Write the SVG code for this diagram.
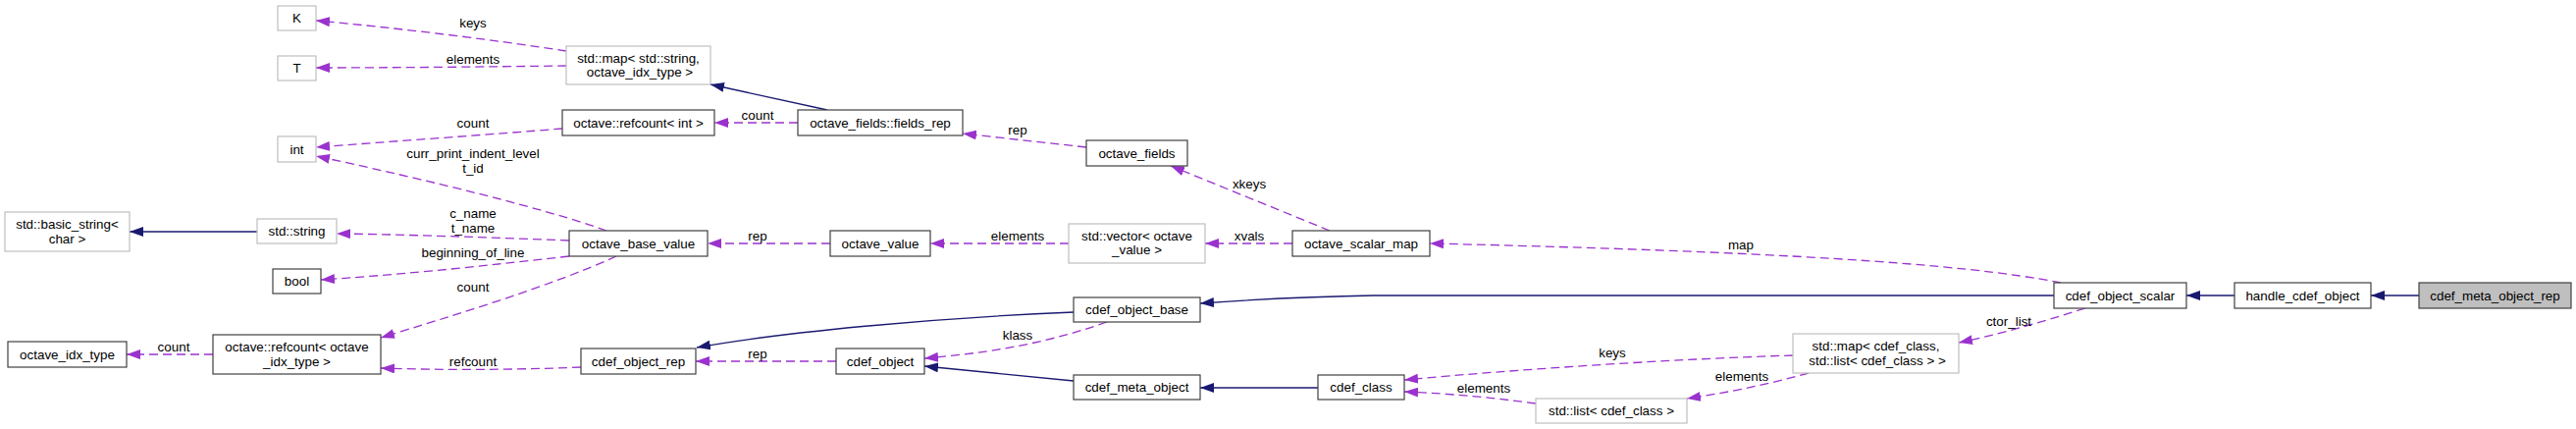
<svg xmlns="http://www.w3.org/2000/svg" width="2625" height="437" viewBox="0 0 2625 437">
<defs>
<style>
.n rect{fill:#fff;stroke:#404040;stroke-width:1.2}
.n.g rect{stroke:#bfbfbf}
.n.f rect{fill:#bfbfbf}
text{font-family:"Liberation Sans",Arial,sans-serif;font-size:13.4px;fill:#000;text-anchor:middle}
.u{fill:none;stroke:#9a32cd;stroke-width:1.3;stroke-dasharray:9,5;marker-end:url(#ap)}
.i{fill:none;stroke:#191970;stroke-width:1.3;marker-end:url(#ab)}
</style>
<marker id="ap" markerUnits="userSpaceOnUse" viewBox="0 0 14 10" refX="14" refY="5" markerWidth="14" markerHeight="10" orient="auto"><path d="M0,0 L14,5 L0,10 z" fill="#9a32cd"/></marker>
<marker id="ab" markerUnits="userSpaceOnUse" viewBox="0 0 14 10" refX="14" refY="5" markerWidth="14" markerHeight="10" orient="auto"><path d="M0,0 L14,5 L0,10 z" fill="#191970"/></marker>
</defs>
<rect width="2625" height="437" fill="#fff"/>
<g id="connectors">
<path class="u" d="M577,52 C500,40 400,28 322,21"/>
<path class="u" d="M577,67 C500,68 400,69 322,69"/>
<path class="i" d="M843,112 L724,86"/>
<path class="u" d="M813,125 L728,125"/>
<path class="u" d="M573,131 C500,137 400,144 322,150"/>
<path class="u" d="M618,235 C560,214 440,184 322,159"/>
<path class="u" d="M580,245 C500,242 420,239 343,238"/>
<path class="u" d="M580,261 C500,270 420,279 327,285"/>
<path class="u" d="M628,261 C560,292 460,322 388,344"/>
<path class="u" d="M846,248 L721,248"/>
<path class="u" d="M1089,248 L948,248"/>
<path class="u" d="M1317,248 L1228,248"/>
<path class="u" d="M1355,235 L1193,169"/>
<path class="u" d="M1107,150 L981,136"/>
<path class="u" d="M2100,288 C2000,268 1800,256 1457,248"/>
<path class="i" d="M2093,301 L1400,301 C1330,302 1280,305 1223,309"/>
<path class="i" d="M1094,318 C950,324 800,338 710,354"/>
<path class="u" d="M852,368 L709,368"/>
<path class="u" d="M592,374 C520,377 450,377 388,375"/>
<path class="u" d="M1128,328 C1060,352 1000,360 942,365"/>
<path class="i" d="M1094,388 L942,373"/>
<path class="i" d="M1343,395 L1223,395"/>
<path class="u" d="M1827,362 C1700,366 1550,376 1431,387"/>
<path class="u" d="M1565,411 C1520,405 1480,401 1431,399"/>
<path class="u" d="M1843,380 C1800,392 1760,400 1719,406"/>
<path class="u" d="M2125,314 C2080,328 2040,340 1996,349"/>
<path class="i" d="M2277,301 L2228,301"/>
<path class="i" d="M2465,301 L2416,301"/>
<path class="i" d="M262,236 L132,236"/>
<path class="u" d="M217,361 L129,361"/>
<text x="482" y="27.5">keys</text>
<text x="482" y="64.5">elements</text>
<text x="772" y="121.5">count</text>
<text x="482" y="129.5">count</text>
<text x="482" y="160.5">curr_print_indent_level</text>
<text x="482" y="175.5">t_id</text>
<text x="482" y="221.5">c_name</text>
<text x="482" y="236.5">t_name</text>
<text x="482" y="261.5">beginning_of_line</text>
<text x="482" y="296.5">count</text>
<text x="482" y="372.5">refcount</text>
<text x="772" y="244.5">rep</text>
<text x="772" y="364.5">rep</text>
<text x="1037" y="244.5">elements</text>
<text x="1037" y="136.5">rep</text>
<text x="1037" y="345.5">klass</text>
<text x="1273" y="191.5">xkeys</text>
<text x="1273" y="244.5">xvals</text>
<text x="1774" y="253.5">map</text>
<text x="1643" y="363.5">keys</text>
<text x="1512" y="399.5">elements</text>
<text x="1775" y="387.5">elements</text>
<text x="2047" y="331.5">ctor_list</text>
<text x="177" y="357.5">count</text>
</g>
<g id="K" class="n g"><rect x="283" y="6" width="39" height="25"/><text x="302.5" y="23">K</text></g>
<g id="T" class="n g"><rect x="283" y="57" width="39" height="25"/><text x="302.5" y="74">T</text></g>
<g id="int" class="n g"><rect x="283" y="139" width="39" height="26"/><text x="302.5" y="156.5">int</text></g>
<g id="basic_string" class="n g"><rect x="5" y="216" width="127" height="40"/><text x="68.5" y="232.5">std::basic_string&lt;</text><text x="68.5" y="247.5">char &gt;</text></g>
<g id="std_string" class="n g"><rect x="262" y="223" width="81" height="25"/><text x="302.5" y="240">std::string</text></g>
<g id="bool" class="n"><rect x="278" y="274" width="49" height="25"/><text x="302.5" y="291">bool</text></g>
<g id="octave_idx_type" class="n"><rect x="8" y="348" width="121" height="26"/><text x="68.5" y="365.5">octave_idx_type</text></g>
<g id="refcount_idx" class="n"><rect x="217" y="341" width="171" height="40"/><text x="302.5" y="357.5">octave::refcount&lt; octave</text><text x="302.5" y="372.5">_idx_type &gt;</text></g>
<g id="map_string" class="n g"><rect x="577" y="47" width="147" height="39"/><text x="650.5" y="63.5">std::map&lt; std::string,</text><text x="652" y="78">octave_idx_type &gt;</text></g>
<g id="refcount_int" class="n"><rect x="573" y="112" width="155" height="26"/><text x="650.5" y="129.5">octave::refcount&lt; int &gt;</text></g>
<g id="octave_base_value" class="n"><rect x="580" y="235" width="141" height="26"/><text x="650.5" y="252.5">octave_base_value</text></g>
<g id="cdef_object_rep" class="n"><rect x="592" y="355" width="117" height="26"/><text x="650.5" y="372.5">cdef_object_rep</text></g>
<g id="fields_rep" class="n"><rect x="813" y="112" width="168" height="26"/><text x="897" y="129.5">octave_fields::fields_rep</text></g>
<g id="octave_value" class="n"><rect x="846" y="235" width="102" height="26"/><text x="897" y="252.5">octave_value</text></g>
<g id="cdef_object" class="n"><rect x="852" y="355" width="90" height="26"/><text x="897" y="372.5">cdef_object</text></g>
<g id="octave_fields" class="n"><rect x="1107" y="143" width="103" height="26"/><text x="1158.5" y="160.5">octave_fields</text></g>
<g id="vector_octave_value" class="n g"><rect x="1089" y="228" width="139" height="40"/><text x="1158.5" y="244.5">std::vector&lt; octave</text><text x="1158.5" y="258.5">_value &gt;</text></g>
<g id="cdef_object_base" class="n"><rect x="1094" y="303" width="129" height="25"/><text x="1158.5" y="320">cdef_object_base</text></g>
<g id="cdef_meta_object" class="n"><rect x="1094" y="382" width="129" height="25"/><text x="1158.5" y="399">cdef_meta_object</text></g>
<g id="octave_scalar_map" class="n"><rect x="1317" y="235" width="140" height="26"/><text x="1387" y="252.5">octave_scalar_map</text></g>
<g id="cdef_class" class="n"><rect x="1343" y="382" width="88" height="25"/><text x="1387" y="399">cdef_class</text></g>
<g id="list_cdef_class" class="n g"><rect x="1565" y="406" width="154" height="25"/><text x="1642" y="423">std::list&lt; cdef_class &gt;</text></g>
<g id="map_cdef_class" class="n g"><rect x="1827" y="340" width="169" height="40"/><text x="1911.5" y="356.5">std::map&lt; cdef_class,</text><text x="1913" y="371.5">std::list&lt; cdef_class &gt; &gt;</text></g>
<g id="cdef_object_scalar" class="n"><rect x="2093" y="288" width="135" height="26"/><text x="2160.5" y="305.5">cdef_object_scalar</text></g>
<g id="handle_cdef_object" class="n"><rect x="2277" y="288" width="139" height="26"/><text x="2346.5" y="305.5">handle_cdef_object</text></g>
<g id="cdef_meta_object_rep" class="n f"><rect x="2465" y="288" width="155" height="26"/><text x="2542.5" y="305.5">cdef_meta_object_rep</text></g>
</svg>
